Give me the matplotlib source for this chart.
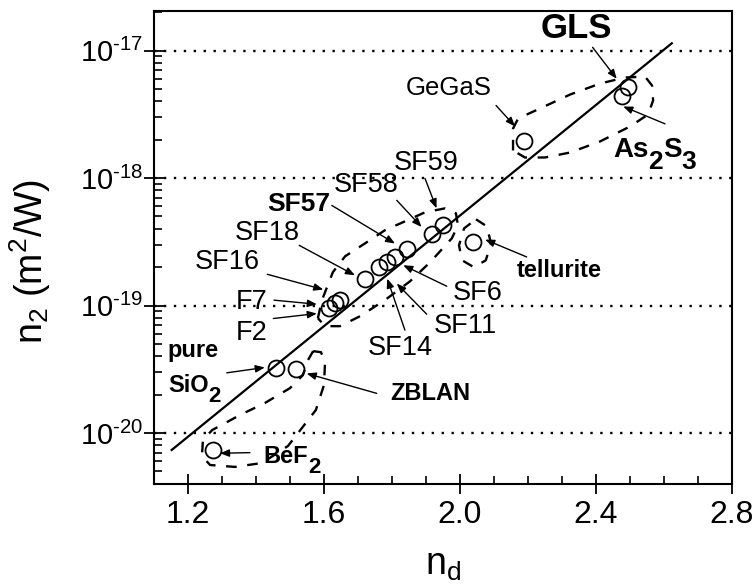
import numpy as np
import matplotlib
matplotlib.use('Agg')
import matplotlib.pyplot as plt
from matplotlib.ticker import LogLocator, MultipleLocator, FixedLocator, NullFormatter, FuncFormatter

plt.rcParams.update({
    'font.family': ['Liberation Sans', 'DejaVu Sans'],
    'mathtext.fontset': 'custom',
    'mathtext.rm': 'Liberation Sans',
    'mathtext.it': 'Liberation Sans:italic',
    'mathtext.bf': 'Liberation Sans:bold',
    'axes.unicode_minus': False,
})

# ---------------- data ----------------
glasses = ['BeF2', 'SiO2', 'ZBLAN', 'F2', 'F7', 'SF16', 'SF18', 'SF14', 'SF11',
           'SF6', 'SF57', 'SF58', 'SF59', 'tellurite', 'GeGaS', 'As2S3', 'GLS']
n_d = [1.274, 1.459, 1.518, 1.616, 1.632, 1.647, 1.721, 1.763, 1.786,
       1.809, 1.845, 1.917, 1.951, 2.037, 2.188, 2.476, 2.495]
n2 = [7.4e-21, 3.24e-20, 3.16e-20, 9.5e-20, 1.04e-19, 1.11e-19, 1.62e-19, 2.0e-19, 2.19e-19,
      2.40e-19, 2.79e-19, 3.66e-19, 4.26e-19, 3.15e-19, 1.95e-18, 4.43e-18, 5.21e-18]

# linear fit in log space (end points)
fit_nd = [1.152, 2.623]
fit_n2 = [7.36e-21, 1.14e-17]

x_ticks = [1.2, 1.6, 2.0, 2.4, 2.8]
x_ticklabels = ['1.2', '1.6', '2.0', '2.4', '2.8']
y_decades = [1e-20, 1e-19, 1e-18, 1e-17]

# labels: pieces (text, is_subscript), n_d, log10(n2), ha, size, weight
label_parts = [[('GLS', 0)], [('GeGaS', 0)], [('As', 0), ('2', 1), ('S', 0), ('3', 1)],
               [('SF59', 0)], [('SF58', 0)], [('SF57', 0)], [('SF18', 0)], [('SF16', 0)],
               [('F7', 0)], [('F2', 0)], [('pure', 0)], [('SiO', 0), ('2', 1)], [('ZBLAN', 0)],
               [('BeF', 0), ('2', 1)], [('SF14', 0)], [('SF11', 0)], [('SF6', 0)], [('tellurite', 0)]]
label_nd = [2.341, 1.968, 2.450, 1.900, 1.724, 1.526, 1.432, 1.315,
            1.388, 1.388, 1.141, 1.141, 1.794, 1.421, 1.824, 2.015, 2.053, 2.291]
# baseline positions
label_logn2 = [-16.905, -17.345, -17.839, -17.935, -18.107, -18.262, -18.483, -18.710,
               -19.024, -19.274, -19.405, -19.677, -19.742, -20.237, -19.392, -19.219, -18.953, -18.776]
label_ha = ['center', 'center', 'left', 'center', 'center', 'center', 'center', 'center',
            'center', 'center', 'left', 'left', 'left', 'left', 'center', 'center', 'center', 'center']
label_size = [25, 18.5, 20, 19.5, 19.5, 19, 19.5, 19.5, 19.5, 19.5, 17, 17, 17, 17, 19.5, 19.5, 19.5, 17]
label_bold = [True, False, True, False, False, True, False, False, False, False,
              True, True, True, True, False, False, False, True]

# arrows: start (n_d, log n2) -> end (n_d, log n2)
arrow_x0 = [2.390, 2.603, 2.106, 1.897, 1.814, 1.623, 1.527, 1.433, 1.453, 1.451,
            1.314, 1.755, 1.382, 1.838, 1.902, 1.961, 2.196]
arrow_y0 = [-16.975, -17.575, -17.431, -18.003, -18.175, -18.215, -18.528, -18.755, -18.958, -19.102,
            -19.528, -19.689, -20.154, -19.193, -19.068, -18.849, -18.619]
arrow_x1 = [2.461, 2.480, 2.162, 1.931, 1.887, 1.809, 1.691, 1.598, 1.579, 1.579,
            1.426, 1.549, 1.294, 1.786, 1.814, 1.833, 2.074]
arrow_y1 = [-17.222, -17.439, -17.595, -18.238, -18.384, -18.514, -18.763, -18.875, -18.990, -19.063,
            -19.486, -19.533, -20.159, -18.789, -18.828, -18.684, -18.483]

# dashed outlines of glass families (n_d, log10 n2)
chalco_nd = [2.156, 2.156, 2.171, 2.235, 2.324, 2.412, 2.485, 2.544, 2.565, 2.568, 2.553,
             2.500, 2.412, 2.324, 2.250, 2.191, 2.156]
chalco_logn2 = [-17.784, -17.612, -17.533, -17.455, -17.345, -17.259, -17.212, -17.204, -17.275,
                -17.392, -17.502, -17.596, -17.713, -17.800, -17.839, -17.839, -17.784]
schott_nd = [1.582, 1.594, 1.626, 1.662, 1.721, 1.779, 1.838, 1.897, 1.956, 1.988, 1.994,
             1.976, 1.912, 1.853, 1.779, 1.706, 1.647, 1.603, 1.582]
schott_logn2 = [-19.099, -18.958, -18.739, -18.614, -18.512, -18.410, -18.340, -18.269, -18.238,
                -18.277, -18.371, -18.473, -18.661, -18.810, -18.958, -19.084, -19.162, -19.162, -19.099]
tell_nd = [2.047, 2.079, 2.091, 2.076, 2.041, 2.006, 1.997, 2.012, 2.047]
tell_logn2 = [-18.324, -18.379, -18.512, -18.645, -18.700, -18.645, -18.528, -18.395, -18.324]
fluor_nd = [1.568, 1.591, 1.603, 1.600, 1.576, 1.535, 1.494, 1.418, 1.338, 1.265, 1.241,
            1.244, 1.271, 1.353, 1.426, 1.500, 1.538, 1.553, 1.568]
fluor_logn2 = [-19.358, -19.366, -19.444, -19.624, -19.820, -19.961, -20.102, -20.235, -20.266,
               -20.251, -20.180, -20.055, -19.977, -19.859, -19.765, -19.648, -19.546, -19.428, -19.358]

# ---------------- figure ----------------
fig = plt.figure(figsize=(7.56, 5.85), dpi=100)
ax = fig.add_axes([154 / 756, 1 - 484 / 585, (732 - 154) / 756, (484 - 11) / 585])
ax.set_yscale('log')
ax.set_xlim(1.1, 2.8)
ax.set_ylim(10 ** -20.40, 10 ** -16.69)

# dotted decade lines
for yd in y_decades:
    ax.axhline(yd, color='black', lw=1.7, linestyle=(0, (1.0, 3.2)), zorder=1)

# fit line
ax.plot(fit_nd, fit_n2, color='black', lw=1.6, zorder=3)

# dashed outlines
for xs, ls in [(chalco_nd, chalco_logn2), (schott_nd, schott_logn2),
               (tell_nd, tell_logn2), (fluor_nd, fluor_logn2)]:
    ax.plot(xs, 10 ** np.array(ls), color='black', lw=1.7, linestyle=(0, (4.5, 4.5)), zorder=2)

# data points
ax.plot(n_d, n2, 'o', mfc='none', mec='black', ms=11.5, mew=1.3, zorder=5)

# arrows
for x0, y0, x1, y1 in zip(arrow_x0, arrow_y0, arrow_x1, arrow_y1):
    ax.annotate('', xy=(x1, 10 ** y1), xytext=(x0, 10 ** y0),
                arrowprops=dict(arrowstyle='-|>,head_length=0.55,head_width=0.22',
                                color='black', lw=1.0, shrinkA=0, shrinkB=0),
                zorder=6)

# labels built from pieces so subscripts stay near full size
renderer = fig.canvas.get_renderer()
for parts, x, ly, ha, s, b in zip(label_parts, label_nd, label_logn2, label_ha,
                                  label_size, label_bold):
    w = 'bold' if b else 'normal'
    texts = []
    dx = 0.0
    for txt, sub in parts:
        size = s * (0.95 if sub else 1.0)
        drop = -0.6 * s * 0.716 * 100 / 72 if sub else 0.0
        t = ax.annotate(txt, xy=(x, 10 ** ly), xycoords='data',
                        xytext=(dx, drop), textcoords='offset pixels',
                        ha='left', va='baseline', fontsize=size, fontweight=w, zorder=7)
        dx += t.get_window_extent(renderer).width
        texts.append(t)
    if ha == 'center':
        for t in texts:
            ox, oy = t.xyann
            t.xyann = (ox - dx / 2.0, oy)

# axes styling
for sp in ax.spines.values():
    sp.set_linewidth(1.5)
ax.xaxis.set_major_locator(FixedLocator(x_ticks))
ax.set_xticklabels(x_ticklabels)
ax.xaxis.set_minor_locator(MultipleLocator(0.1))
ax.yaxis.set_major_locator(FixedLocator(y_decades))
ax.yaxis.set_major_formatter(FuncFormatter(
    lambda v, p: r'$\mathdefault{10^{\text{-%d}}}$' % abs(round(np.log10(v)))))
ax.yaxis.set_minor_locator(LogLocator(base=10, subs=np.arange(2, 10), numticks=20))
ax.yaxis.set_minor_formatter(NullFormatter())
ax.tick_params(axis='x', which='major', direction='inout', length=15, width=1.3,
               labelsize=23, pad=4, top=False)
ax.tick_params(axis='x', which='minor', direction='in', length=6, width=1.2, top=False)
ax.tick_params(axis='y', which='major', direction='inout', length=14, width=1.3,
               labelsize=21, pad=1, right=False)
ax.tick_params(axis='y', which='minor', direction='in', length=6, width=1.2, right=False)

ax.set_xlabel(r'$\mathrm{n_d}$', fontsize=27, labelpad=12)
ax.set_ylabel(r'$\mathrm{n_2\ (m^2/W)}$', fontsize=27)
ax.yaxis.set_label_coords(-0.175, 0.47)

fig.savefig('out.png', dpi=100)
